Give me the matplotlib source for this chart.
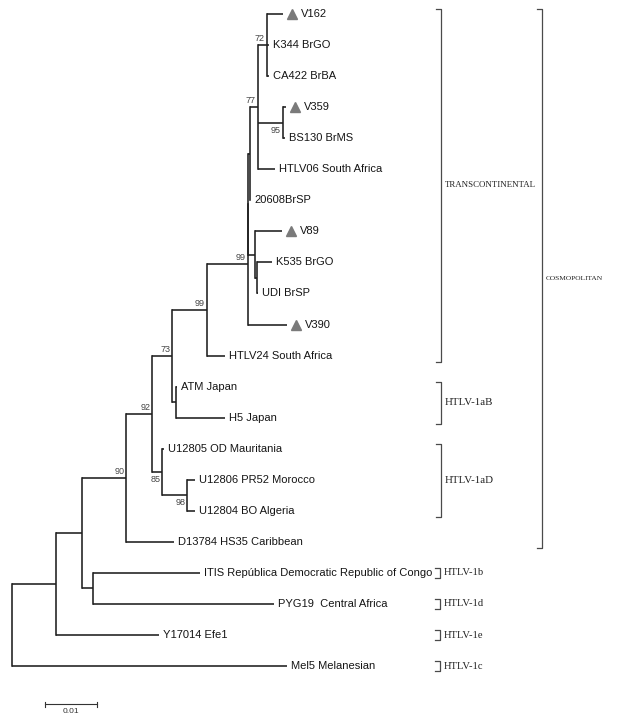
import matplotlib
matplotlib.use("Agg")
import matplotlib.pyplot as plt
from matplotlib.transforms import offset_copy

# ---------------- data ----------------
node_names = [
    "root", "nD", "nE", "n90", "n92", "n73", "n99L", "n99U", "nB", "nC", "n77", "n72",
    "V162", "K344 BrGO", "CA422 BrBA", "n95", "V359", "BS130 BrMS", "HTLV06 South Africa",
    "20608BrSP", "nV89", "V89", "nKU", "K535 BrGO", "UDI BrSP", "V390", "HTLV24 South Africa",
    "nAH", "ATM Japan", "H5 Japan", "n85", "U12805 OD Mauritania", "n98",
    "U12806 PR52 Morocco", "U12804 BO Algeria", "D13784 HS35 Caribbean", "nF",
    "ITIS República Democratic Republic of Congo", "PYG19  Central Africa",
    "Y17014 Efe1", "Mel5 Melanesian",
]
node_parent = [
    None, "root", "nD", "nE", "n90", "n92", "n73", "n99L", "n99U", "nB", "nC", "n77",
    "n72", "n72", "n72", "n77", "n95", "n95", "n77",
    "nC", "nB", "nV89", "nV89", "nKU", "nKU", "n99U", "n99L",
    "n73", "nAH", "nAH", "n92", "n85", "n85",
    "n98", "n98", "n90", "nE",
    "nF", "nF",
    "nD", "root",
]
branch_length = [
    0.0, 0.0085, 0.0050, 0.0085, 0.0050, 0.0038, 0.0067, 0.0079, 0.0000, 0.0004, 0.0015, 0.0017,
    0.0031, 0.0004, 0.0004, 0.0048, 0.0006, 0.0004, 0.0033,
    0.0000, 0.0013, 0.0052, 0.0004, 0.0029, 0.0002, 0.0075, 0.0035,
    0.0008, 0.0002, 0.0094, 0.0019, 0.0004, 0.0048,
    0.0015, 0.0015, 0.0092, 0.0021,
    0.0206, 0.0348,
    0.0198, 0.0529,
]
support_nodes = ["n72", "n77", "n95", "n99U", "n99L", "n73", "n92", "n85", "n98", "n90"]
support_values = [72, 77, 95, 99, 99, 73, 92, 85, 98, 90]
marked_leaves = ["V162", "V359", "V89", "V390"]

clade_names = ["TRANSCONTINENTAL", "HTLV-1aB", "HTLV-1aD", "COSMOPOLITAN",
               "HTLV-1b", "HTLV-1d", "HTLV-1e", "HTLV-1c"]
clade_first = ["V162", "ATM Japan", "U12805 OD Mauritania", "V162",
               "ITIS República Democratic Republic of Congo", "PYG19  Central Africa",
               "Y17014 Efe1", "Mel5 Melanesian"]
clade_last = ["HTLV24 South Africa", "H5 Japan", "U12804 BO Algeria", "D13784 HS35 Caribbean",
              "ITIS República Democratic Republic of Congo", "PYG19  Central Africa",
              "Y17014 Efe1", "Mel5 Melanesian"]
scale_bar_length = 0.01
scale_bar_label = "0.01"

# ---------------- layout ----------------
W, H = 631, 724
PX_PER_UNIT = 5200.0     # pixels per substitution/site
X0 = 12.0                # root x (px)
Y0, DY = 14.0, 31.05     # first leaf y (px), leaf spacing (px)

def px2x(px):
    return (px - X0) / PX_PER_UNIT

def py2y(py):
    return (py - Y0) / DY

children = {n: [] for n in node_names}
for n, p in zip(node_names, node_parent):
    if p is not None:
        children[p].append(n)
blen = dict(zip(node_names, branch_length))
parent = dict(zip(node_names, node_parent))

xpos, ypos = {}, {}
leaf_order = []

def layout(n, x):
    xpos[n] = x
    if not children[n]:
        ypos[n] = len(leaf_order)
        leaf_order.append(n)
        return
    for c in children[n]:
        layout(c, x + blen[c])
    ypos[n] = (ypos[children[n][0]] + ypos[children[n][-1]]) / 2.0

layout("root", 0.0)

fig = plt.figure(figsize=(W / 100, H / 100), dpi=100)
ax = fig.add_axes([0, 0, 1, 1])
ax.set_xlim(px2x(0), px2x(W))
ax.set_ylim(py2y(H), py2y(0))
ax.axis("off")

LC = "#1e1e1e"
LW = 1.15
for n in node_names:
    p = parent[n]
    if p is not None:
        ax.plot([xpos[p], xpos[n]], [ypos[n], ypos[n]], color=LC, lw=LW,
                solid_capstyle="butt")
    if children[n]:
        ax.plot([xpos[n], xpos[n]], [ypos[children[n][0]], ypos[children[n][-1]]],
                color=LC, lw=LW, solid_capstyle="projecting")

# leaf labels and markers
tri_tr = offset_copy(ax.transData, fig=fig, x=9, y=0, units="dots")
lab_tr = offset_copy(ax.transData, fig=fig, x=4, y=0, units="dots")
lab_tr_m = offset_copy(ax.transData, fig=fig, x=18, y=0, units="dots")
for n in leaf_order:
    if n in marked_leaves:
        ax.plot([xpos[n]], [ypos[n]], marker="^", ms=7.2, color="#7a7a7a",
                mec="#7a7a7a", transform=tri_tr)
        tr = lab_tr_m
    else:
        tr = lab_tr
    ax.text(xpos[n], ypos[n], n, transform=tr, ha="left", va="center",
            fontsize=8, family=["Liberation Sans", "DejaVu Sans"], color="#151515")

# bootstrap values
for n, v in zip(support_nodes, support_values):
    first = children[parent[n]][0] == n
    if first:
        tr = offset_copy(ax.transData, fig=fig, x=-2, y=2, units="dots")
        va = "bottom"
    else:
        tr = offset_copy(ax.transData, fig=fig, x=-2, y=-3, units="dots")
        va = "top"
    ax.text(xpos[n], ypos[n], str(v), transform=tr, ha="right", va=va,
            fontsize=6.5, family=["Liberation Sans", "DejaVu Sans"], color="#444444")

# clade brackets
bracket_x_px = [441, 441, 441, 542, 440, 440, 440, 440]
font_sizes = [6.4, 7.8, 7.8, 5.4, 7.6, 7.6, 7.6, 7.6]
BC = "#4a4a4a"
for name, a, b, bx, fs in zip(clade_names, clade_first, clade_last, bracket_x_px, font_sizes):
    ya, yb = ypos[a], ypos[b]
    if a == b:
        top, bot = ya - py2y(Y0 + 5), yb + py2y(Y0 + 5)
    else:
        top, bot = ya - py2y(Y0 + 5), yb + py2y(Y0 + 6)
    xb = px2x(bx)
    xt = px2x(bx - 5)
    ax.plot([xt, xb, xb, xt], [top, top, bot, bot], color=BC, lw=0.9)
    ax.text(px2x(bx + 4), (top + bot) / 2, name, ha="left", va="center",
            fontsize=fs, family=["Liberation Serif", "DejaVu Serif"], color="#222222")

# scale bar
sx0 = px2x(45)
sy = py2y(704)
cap = py2y(Y0 + 2.5)
ax.plot([sx0, sx0 + scale_bar_length], [sy, sy], color="#333333", lw=0.8)
for xx in (sx0, sx0 + scale_bar_length):
    ax.plot([xx, xx], [sy - cap, sy + cap], color="#333333", lw=0.8)
ax.text(sx0 + scale_bar_length / 2, py2y(708), scale_bar_label, ha="center", va="top",
        fontsize=6, family=["Liberation Sans", "DejaVu Sans"], color="#333333")

fig.savefig("out.png", dpi=100, facecolor="white")
